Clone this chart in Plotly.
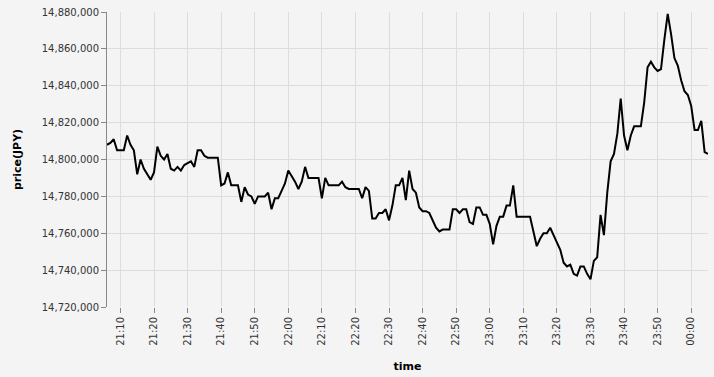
import pandas as pd
import plotly.graph_objects as go

start_time = "2024-01-01 21:06"
prices_k = [
    808, 809, 811, 805, 805, 805, 813, 808, 805, 792,  # 21:06-21:15
    800, 795, 792, 789, 793, 807, 802, 800, 803, 795,  # 21:16-21:25
    794, 796, 794, 797, 798, 799, 796, 805, 805, 802,  # 21:26-21:35
    801, 801, 801, 801, 786, 787, 793, 786, 786, 786,  # 21:36-21:45
    777, 785, 781, 780, 776, 780, 780, 780, 782, 773,  # 21:46-21:55
    779, 779, 783, 787, 794, 791, 788, 784, 788, 796,  # 21:56-22:05
    790, 790, 790, 790, 779, 790, 786, 786, 786, 786,  # 22:06-22:15
    788, 785, 784, 784, 784, 784, 779, 785, 783, 768,  # 22:16-22:25
    768, 771, 771, 773, 767, 775, 786, 786, 790, 778,  # 22:26-22:35
    794, 784, 782, 774, 772, 772, 771, 767, 763, 761,  # 22:36-22:45
    762, 762, 762, 773, 773, 771, 773, 773, 766, 765,  # 22:46-22:55
    774, 774, 770, 770, 765, 754, 764, 769, 769, 775,  # 22:56-23:05
    775, 786, 769, 769, 769, 769, 769, 761, 753, 757,  # 23:06-23:15
    760, 760, 763, 759, 755, 751, 744, 742, 743, 738,  # 23:16-23:25
    737, 742, 742, 738, 735, 745, 747, 770, 759, 782,  # 23:26-23:35
    799, 803, 814, 833, 813, 805, 813, 818, 818, 818,  # 23:36-23:45
    831, 850, 853, 850, 848, 849, 865, 879, 868, 855,  # 23:46-23:55
    851, 843, 837, 835, 829, 816, 816, 821, 804, 803,  # 23:56-00:05
]
prices = [14_000_000 + p * 1000 for p in prices_k]
times = pd.date_range(start_time, periods=len(prices), freq="1min")

y_ticks = list(range(14_720_000, 14_880_001, 20_000))
y_tick_labels = [f"{v:,}" for v in y_ticks]

font = "DejaVu Sans"
fig = go.Figure()
fig.add_trace(go.Scatter(
    x=times, y=prices, mode="lines",
    line=dict(color="#000000", width=2),
    hoverinfo="x+y",
))
fig.update_layout(
    width=714, height=377,
    margin=dict(l=107, r=6, t=10, b=67),
    paper_bgcolor="#f4f4f4", plot_bgcolor="#f4f4f4",
    showlegend=False,
    font=dict(family=font, size=10, color="#333333"),
)
fig.update_xaxes(
    range=[times[0], times[-1]],
    tickformat="%H:%M", dtick=600000, tick0="2024-01-01 21:10",
    tickangle=-90, ticks="outside", ticklen=5, tickcolor="#888888",
    showgrid=True, gridcolor="#dddddd", gridwidth=1,
    showline=False, zeroline=False,
    tickfont=dict(family=font, size=10, color="#333333"),
    title=dict(text="<b>time</b>", font=dict(family=font, size=11, color="#000000"), standoff=17),
)
fig.update_yaxes(
    range=[14_720_000, 14_880_000],
    tickvals=y_ticks, ticktext=y_tick_labels,
    ticks="outside", ticklen=5, tickcolor="#888888",
    showgrid=True, gridcolor="#dddddd", gridwidth=1,
    showline=True, linecolor="#888888", linewidth=1,
    zeroline=False,
    tickfont=dict(family=font, size=10, color="#333333"),
    title=dict(text="<b>price(JPY)</b>", font=dict(family=font, size=11, color="#000000"), standoff=17),
)
fig.write_html("out.html")
